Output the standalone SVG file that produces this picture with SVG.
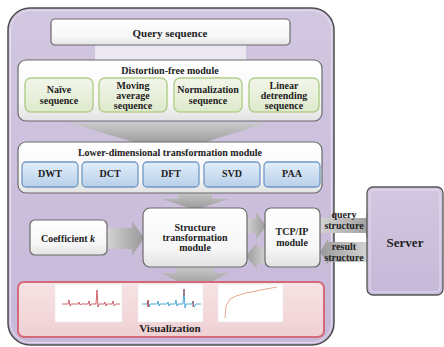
<svg xmlns="http://www.w3.org/2000/svg" width="444" height="347" viewBox="0 0 444 347">
<defs>
<linearGradient id="gPurple" x1="0" y1="0" x2="0" y2="1"><stop offset="0" stop-color="#d2c7e0"/><stop offset="1" stop-color="#c6b9d9"/></linearGradient>
<linearGradient id="gWhite" x1="0" y1="0" x2="0" y2="1"><stop offset="0" stop-color="#ffffff"/><stop offset="0.7" stop-color="#f6f6f6"/><stop offset="1" stop-color="#e2e2e2"/></linearGradient>
<linearGradient id="gGreen" x1="0" y1="0" x2="0" y2="1"><stop offset="0" stop-color="#f2f6ea"/><stop offset="1" stop-color="#dfe9cd"/></linearGradient>
<linearGradient id="gBlue" x1="0" y1="0" x2="0" y2="1"><stop offset="0" stop-color="#e3eef9"/><stop offset="1" stop-color="#b7cfea"/></linearGradient>
<linearGradient id="gPink" x1="0" y1="0" x2="0" y2="1"><stop offset="0" stop-color="#f7e3e4"/><stop offset="1" stop-color="#efd0d3"/></linearGradient>
<linearGradient id="gArrowV" x1="0" y1="0" x2="0" y2="1"><stop offset="0" stop-color="#c9c9c9"/><stop offset="1" stop-color="#959595"/></linearGradient>
<linearGradient id="gArrowH" x1="0" y1="0" x2="1" y2="0"><stop offset="0" stop-color="#d4d4d4"/><stop offset="1" stop-color="#999999"/></linearGradient>
<linearGradient id="gArrowHL" x1="1" y1="0" x2="0" y2="0"><stop offset="0" stop-color="#d4d4d4"/><stop offset="1" stop-color="#999999"/></linearGradient>
</defs>
<style>
text{font-family:"Liberation Serif","DejaVu Serif",serif;font-weight:bold;fill:#222;text-anchor:middle}
.t{font-size:11px}
.s{font-size:10px}
.wbox{fill:url(#gWhite);stroke:#6a6a6a;stroke-width:1.2}
.gbox{fill:url(#gGreen);stroke:#b4cf8c;stroke-width:1.5}
.bbox{fill:url(#gBlue);stroke:#7097c4;stroke-width:1.3}
.av{fill:url(#gArrowV)}
.ah{fill:url(#gArrowH)}
.ahl{fill:url(#gArrowHL)}
.chart{fill:#ffffff;stroke:#e6e6e6;stroke-width:0.5}
</style>

<g id="container">
<rect x="8" y="8" width="326" height="337" rx="22" fill="url(#gPurple)" stroke="#4d4d4d" stroke-width="1.5"/>
<rect x="10.5" y="10.5" width="321" height="332" rx="20" fill="none" stroke="#e6def0" stroke-width="1"/>
</g>

<g id="connectors">
<rect x="95" y="44" width="151" height="17" fill="#ebe8f0"/>
<polygon class="av" points="70,123 266,123 190,147 150,147"/>
<polygon class="av" points="178,192 212,192 212,199 228,199 195,210 162,199 178,199"/>
<polygon class="ah" points="106,228 132,228 132,221 144,238 132,256 132,249 106,249"/>
<polygon class="ah" points="246,218 256,218 256,212 266,226 256,240 256,233 246,233"/>
<polygon class="ahl" points="266,247 257,247 257,242 246,256 257,270 257,264 266,264"/>
<polygon class="ah" points="320,218 366,218 366,214 375,226 366,238 366,233 320,233"/>
<polygon class="ahl" points="368,242 328,242 328,239 320,252 328,265 328,262 368,262"/>
<polygon class="av" points="176,266 214,266 214,273 229,273 195,290 161,273 176,273"/>
</g>

<g id="query">
<rect class="wbox" x="51" y="19" width="239" height="26" rx="4"/>
<text class="t" x="170" y="37">Query sequence</text>
</g>

<g id="distortion">
<rect class="wbox" x="18" y="60" width="304" height="61" rx="8"/>
<text class="s" x="170" y="74">Distortion-free module</text>
<g id="naive"><rect class="gbox" x="25" y="78" width="68" height="34" rx="6"/>
<text class="s" x="59" y="93">Naïve</text><text class="s" x="59" y="104">sequence</text></g>
<g id="moving"><rect class="gbox" x="99" y="78" width="68" height="34" rx="6"/>
<text class="s" x="133" y="89">Moving</text><text class="s" x="133" y="99">average</text><text class="s" x="133" y="109">sequence</text></g>
<g id="normalization"><rect class="gbox" x="174" y="78" width="68" height="34" rx="6"/>
<text class="s" x="208" y="93">Normalization</text><text class="s" x="208" y="104">sequence</text></g>
<g id="linear"><rect class="gbox" x="249" y="78" width="70" height="34" rx="6"/>
<text class="s" x="284" y="89">Linear</text><text class="s" x="284" y="99">detrending</text><text class="s" x="284" y="109">sequence</text></g>
</g>

<g id="lowerdim">
<rect class="wbox" x="18" y="142" width="304" height="51" rx="8"/>
<text class="s" x="170" y="156">Lower-dimensional transformation module</text>
<g id="dwt"><rect class="bbox" x="22" y="162" width="56" height="25" rx="4"/><text class="s" x="50" y="177">DWT</text></g>
<g id="dct"><rect class="bbox" x="82" y="162" width="56" height="25" rx="4"/><text class="s" x="110" y="177">DCT</text></g>
<g id="dft"><rect class="bbox" x="143" y="162" width="56" height="25" rx="4"/><text class="s" x="171" y="177">DFT</text></g>
<g id="svd"><rect class="bbox" x="204" y="162" width="56" height="25" rx="4"/><text class="s" x="232" y="177">SVD</text></g>
<g id="paa"><rect class="bbox" x="264" y="162" width="56" height="25" rx="4"/><text class="s" x="292" y="177">PAA</text></g>
</g>

<g id="coefficient">
<rect class="wbox" x="30" y="220" width="77" height="35" rx="5"/>
<text class="s" x="68" y="242">Coefficient <tspan font-style="italic">k</tspan></text>
</g>

<g id="structure">
<rect class="wbox" x="143" y="208" width="104" height="59" rx="7"/>
<text class="s" x="195" y="231">Structure</text>
<text class="s" x="195" y="241">transformation</text>
<text class="s" x="195" y="251">module</text>
</g>

<g id="tcpip">
<rect class="wbox" x="265" y="208" width="55" height="59" rx="6"/>
<text class="s" x="292" y="235">TCP/IP</text>
<text class="s" x="292" y="246">module</text>
</g>

<g id="labels">
<text class="s" x="344" y="218">query</text>
<text class="s" x="344" y="229">structure</text>
<text class="s" x="344" y="250">result</text>
<text class="s" x="344" y="261">structure</text>
</g>

<g id="server">
<rect x="367" y="187" width="76" height="108" rx="6" fill="url(#gPurple)" stroke="#555" stroke-width="1.3"/>
<rect x="370" y="190" width="70" height="102" rx="4" fill="none" stroke="#e4dcef" stroke-width="1"/>
<text x="405" y="247" style="font-size:13px">Server</text>
</g>

<g id="visualization">
<rect x="18" y="282" width="306" height="55" rx="6" fill="url(#gPink)" stroke="#d4697a" stroke-width="2"/>
<g id="chart1">
<rect class="chart" x="55" y="284" width="67" height="38"/>
<polyline fill="none" stroke="#c0404a" stroke-width="0.8" points="62,304 68,304 69,300 70,306 71,304 78,304 79,302 80,305 81,304 88,304 89,301 90,306 91,304 96,304 97,290 98,307 99,304 104,304 105,302 106,306 107,304 112,304 113,301 114,306 116,304 120,304"/>
</g>
<g id="chart2">
<rect class="chart" x="138" y="284" width="65" height="38"/>
<polyline fill="none" stroke="#3a9fd0" stroke-width="0.9" points="142,304 147,304 148,301 149,307 150,304 157,304 158,301 159,306 160,304 167,304 168,302 169,306 170,304 175,304 176,300 177,306 178,304 183,304 184,289 185,308 186,304 192,304 193,301 194,307 196,304 201,304"/>
<polyline fill="none" stroke="#c0404a" stroke-width="0.9" points="148,300 148,307 M184,289"/>
<line x1="184" y1="289" x2="184" y2="296" stroke="#c0404a" stroke-width="1"/>
<line x1="148" y1="300" x2="148" y2="307" stroke="#c0404a" stroke-width="1"/>
<line x1="193" y1="301" x2="193" y2="307" stroke="#c0404a" stroke-width="1"/>
</g>
<g id="chart3">
<rect class="chart" x="218" y="284" width="65" height="38"/>
<polyline fill="none" stroke="#e0a080" stroke-width="0.9" points="225,318 226,306 230,299 236,296 246,293 256,291 266,289 277,287"/>
</g>
<text class="t" x="170" y="332">Visualization</text>
</g>
</svg>
